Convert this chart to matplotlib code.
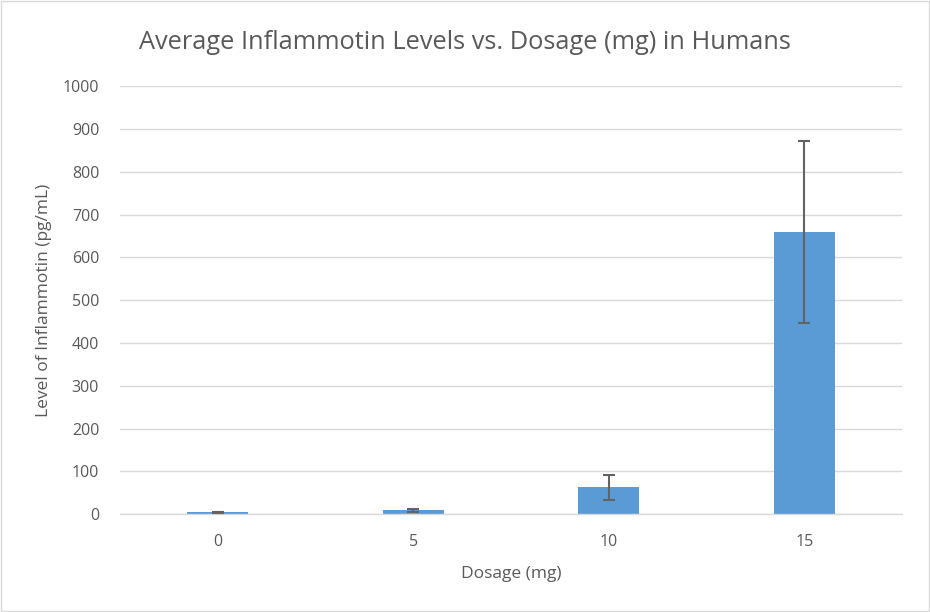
import matplotlib
matplotlib.use('Agg')
import matplotlib.pyplot as plt
from matplotlib.patches import Rectangle

# data
dosages = ['0', '5', '10', '15']
avg_levels = [4, 9, 63, 659]
errors = [2, 3, 29, 213]

bar_color = '#5B9BD5'
text_color = '#595959'

plt.rcParams['font.family'] = ['Open Sans', 'DejaVu Sans']

fig = plt.figure(figsize=(9.3, 6.12), dpi=100)
ax = fig.add_axes([0.129, 0.160, 0.841, 0.699])

x = range(len(dosages))
ax.bar(x, avg_levels, width=0.31, color=bar_color, zorder=2,
       yerr=errors, capsize=4.5,
       error_kw=dict(ecolor='#636363', elinewidth=1.5, capthick=1.5, zorder=3))

ax.set_xlim(-0.5, len(dosages) - 0.5)
ax.set_ylim(0, 1000)
ax.set_yticks(range(0, 1001, 100))
ax.set_xticks(list(x))
ax.set_xticklabels(dosages)
ax.yaxis.grid(True, color='#D9D9D9', linewidth=1, zorder=0)
ax.xaxis.grid(False)

for side in ['top', 'right', 'left']:
    ax.spines[side].set_visible(False)
ax.spines['bottom'].set_color('#D9D9D9')
ax.spines['bottom'].set_linewidth(1)
ax.tick_params(axis='both', length=0, labelsize=11.5, labelcolor=text_color, pad=14)
ax.tick_params(axis='y', pad=15)

ax.set_xlabel('Dosage (mg)', fontsize=12.5, color=text_color, labelpad=12)
ax.set_ylabel('Level of Inflammotin (pg/mL)', fontsize=12.5, color=text_color, labelpad=8)
fig.text(0.5, 0.930, 'Average Inflammotin Levels vs. Dosage (mg) in Humans',
         ha='center', va='center', fontsize=18.3, color=text_color)

fig.patches.append(Rectangle((0.001, 0.001), 0.998, 0.998, transform=fig.transFigure,
                             fill=False, edgecolor='#D9D9D9', linewidth=1))

fig.savefig('out.png', dpi=100)
